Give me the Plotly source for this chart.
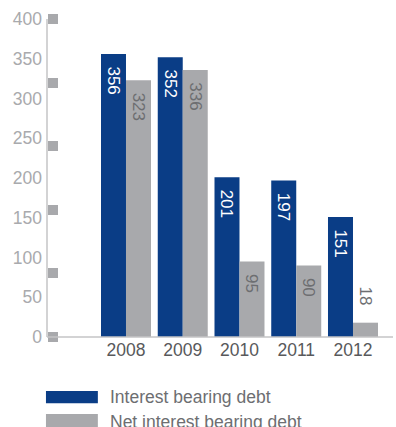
import plotly.graph_objects as go

# Debt figures by year (in millions)
years = ["2008", "2009", "2010", "2011", "2012"]
interest_bearing = [356, 352, 201, 197, 151]
net_interest_bearing = [323, 336, 95, 90, 18]
y_tick_vals = [0, 50, 100, 150, 200, 250, 300, 350, 400]
marker_vals = [0, 80, 160, 240, 320, 400]
series_names = ["Interest bearing debt", "Net interest bearing debt"]

BLUE = "#0a3d86"
GREY = "#a8a9ac"
AXIS = "#c4c4c6"
FONT = "Liberation Sans, Arial, sans-serif"
PAD = "\u00a0\u00a0"


def label_positions(values, limit=40):
    return ["inside" if v >= limit else "outside" for v in values]


def label_texts(values, limit=40):
    return [PAD + str(v) if v >= limit else str(v) + PAD + "\u00a0" for v in values]


fig = go.Figure()
fig.add_trace(go.Bar(
    x=years, y=interest_bearing, name=series_names[0],
    marker=dict(color=BLUE, line=dict(width=0)),
    text=label_texts(interest_bearing), textposition=label_positions(interest_bearing),
    insidetextanchor="end", textangle=90, constraintext="none",
    textfont=dict(family=FONT, size=17, color="white"),
    showlegend=False, hoverinfo="skip",
))
fig.add_trace(go.Bar(
    x=years, y=net_interest_bearing, name=series_names[1],
    marker=dict(color=GREY, line=dict(width=0)),
    text=label_texts(net_interest_bearing), textposition=label_positions(net_interest_bearing),
    insidetextanchor="end", textangle=90, constraintext="none",
    textfont=dict(family=FONT, size=17, color="#6d6e71"),
    outsidetextfont=dict(family=FONT, size=17, color="#6d6e71"),
    showlegend=False, hoverinfo="skip", cliponaxis=False,
))
# invisible trace to carry the square-marker axis
fig.add_trace(go.Scatter(
    x=[years[0]], y=[0], yaxis="y2", mode="markers",
    marker=dict(opacity=0), showlegend=False, hoverinfo="skip",
))

fig.update_layout(
    width=396, height=427,
    margin=dict(l=47, r=3, t=19, b=90),
    paper_bgcolor="white", plot_bgcolor="white",
    barmode="group", bargap=0.119, bargroupgap=0,
    font=dict(family=FONT, size=17, color="#6d6e71"),
    xaxis=dict(
        type="category", range=[-1.392, 4.705],
        showline=False, showgrid=False, zeroline=False, ticks="",
        tickfont=dict(family=FONT, size=17.5, color="#58595b"),
    ),
    yaxis=dict(
        range=[0, 400], tickvals=y_tick_vals,
        showline=False, showgrid=False, zeroline=False, ticks="",
        tickfont=dict(family=FONT, size=17.5, color="#a9aaad"),
        ticklabelstandoff=4,
    ),
    # square markers along the value axis, pointing into the plot
    yaxis2=dict(
        range=[0, 400], overlaying="y", side="right",
        anchor="free", position=0,
        tickvals=marker_vals, ticks="outside", ticklen=10, tickwidth=10,
        tickcolor="#a8a9ac", showticklabels=False,
        showline=False, showgrid=False, zeroline=False,
    ),
)

# axis lines along the left and bottom edges of the plot area
fig.add_shape(type="line", xref="paper", yref="paper", x0=0, x1=0, y0=0, y1=1,
              line=dict(color=AXIS, width=1.5), layer="above")
fig.add_shape(type="line", xref="paper", yref="paper", x0=0, x1=1, y0=0, y1=0,
              line=dict(color=AXIS, width=1.5), layer="above")

# legend: wide swatches with labels underneath the chart
swatch_rows = [(-0.170, -0.208, BLUE), (-0.242, -0.290, GREY)]
for (y0, y1, color), name in zip(swatch_rows, series_names):
    fig.add_shape(type="rect", xref="paper", yref="paper",
                  x0=-0.003, x1=0.147, y0=y0, y1=y1,
                  fillcolor=color, line=dict(width=0))
    fig.add_annotation(xref="paper", yref="paper", x=0.176, y=(y0 + y1) / 2,
                       text=name, showarrow=False, xanchor="left", yanchor="middle",
                       font=dict(family=FONT, size=17.5, color="#6d6e71"))

fig.write_html("out.html")
